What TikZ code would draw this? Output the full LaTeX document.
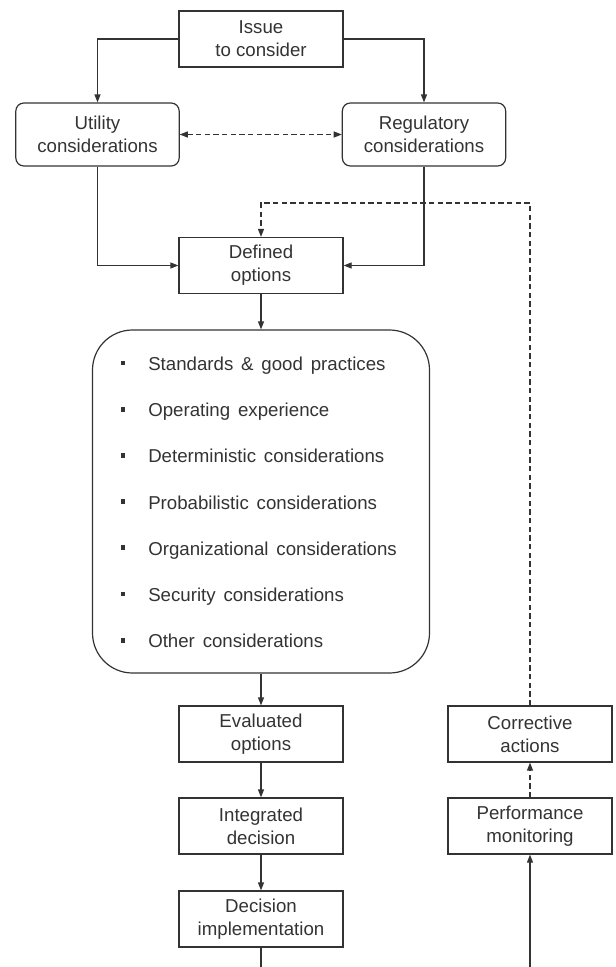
\documentclass[tikz,border=0pt]{standalone}
\usepackage{fontspec}
\setmainfont{Liberation Sans}
\usepackage{tikz}
\usetikzlibrary{arrows.meta}
\definecolor{ink}{gray}{0.2}
\tikzstyle{plain}=[draw=ink,line width=0.9pt,text=ink,align=center,font={\fontsize{14}{17}\selectfont},minimum width=123pt,minimum height=42pt,inner sep=2pt]
\tikzstyle{soft}=[plain,rounded corners=6pt,minimum width=122.5pt,minimum height=47.25pt]
\tikzstyle{wire}=[draw=ink,line width=0.9pt]
\tikzstyle{flow}=[wire,->]
\tikzstyle{loose}=[flow,dash pattern=on 4pt off 2.5pt]
\tikzstyle{sq}=[fill=ink,minimum size=3.6pt,inner sep=0pt]
\tikzstyle{item}=[text=ink,anchor=base west,inner sep=0pt,font={\fontsize{14}{17}\selectfont\spaceskip=0.42em\relax}]

\begin{document}
\begin{tikzpicture}[x=0.75pt,y=-0.75pt,>={Triangle[length=6pt,width=4.5pt]}]
  \useasboundingbox (0,0) rectangle (615,967);
  \node[plain] (issue) at (261,39) {Issue\\to consider};
  \node[soft] (util) at (97.5,134.5) {Utility\\considerations};
  \node[soft] (reg) at (424,134.5) {Regulatory\\considerations};
  \node[plain] (defd) at (261,265.5) {Defined\\options};
  \node[wire,rounded corners=30pt,minimum width=252.75pt,minimum height=257.25pt] (pool) at (261,501.5) {};
  \foreach \t [count=\i] in {Standards \& good practices,Operating experience,Deterministic considerations,Probabilistic considerations,Organizational considerations,Security considerations,Other considerations}{
    \node[sq] (b\i) at (123,{363+46.2*(\i-1)}) {};
    \node[item] (t\i) at (148,{370.5+46.2*(\i-1)}) {\t};
  }
  \node[plain] (eval) at (261,734) {Evaluated\\options};
  \node[plain] (integ) at (261,826) {Integrated\\decision};
  \node[plain] (decis) at (261,919) {Decision\\implementation};
  \node[plain] (corr) at (530,734) {Corrective\\actions};
  \node[plain] (perf) at (530,826) {Performance\\monitoring};
  \coordinate (endL) at (261,967);
  \coordinate (endR) at (530,967);
  \coordinate (bend) at (530,203);

  \draw[flow] (issue.west) -| (util.north);
  \draw[flow] (issue.east) -| (reg.north);
  \draw[loose,<->] (util) -- (reg);
  \draw[flow] (util.south) |- (defd.west);
  \draw[flow] (reg.south) |- (defd.east);
  \draw[flow] (defd) -- (pool);
  \draw[flow] (pool) -- (eval);
  \draw[flow] (eval) -- (integ);
  \draw[flow] (integ) -- (decis);
  \draw[wire] (decis) -- (endL);
  \draw[flow] (endR) -- (perf);
  \draw[loose] (perf) -- (corr);
  \draw[loose] (corr.north) -- (bend) -| (defd.north);
\end{tikzpicture}
\end{document}
